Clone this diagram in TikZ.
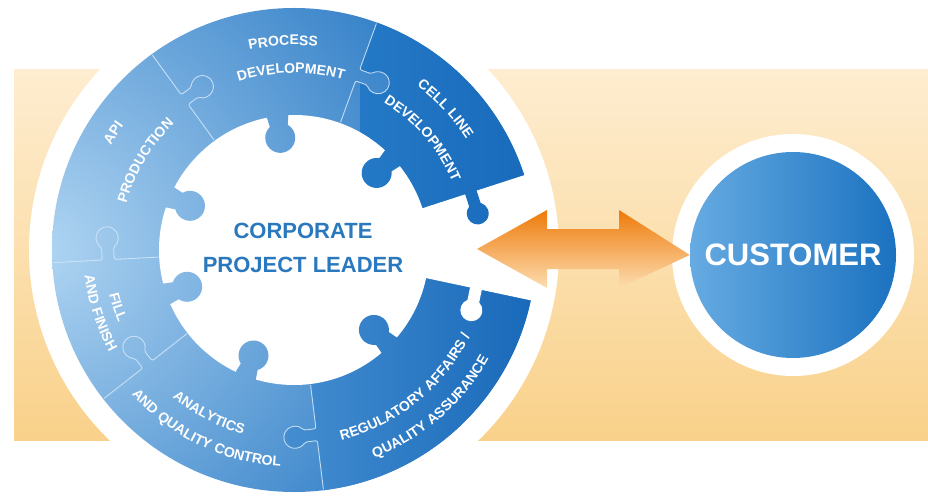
\documentclass[tikz,border=0pt]{standalone}
\usepackage{fontspec}
\setmainfont{Liberation Sans}
\usetikzlibrary{decorations.text,calc}
\definecolor{ringL}{HTML}{B0D5F2}
\definecolor{ringR}{HTML}{1C70C0}
\definecolor{cellL}{HTML}{2479C6}
\definecolor{cellR}{HTML}{1869BA}
\definecolor{regL}{HTML}{4A92D3}
\definecolor{regR}{HTML}{1869BA}
\definecolor{bgTop}{HTML}{FEEDD0}
\definecolor{bgBot}{HTML}{F9D18A}
\definecolor{arrTop}{HTML}{EE7A0A}
\definecolor{arrBot}{HTML}{FCDDB0}
\definecolor{custL}{HTML}{66ABE2}
\definecolor{custR}{HTML}{1B72C0}
\definecolor{leadBlue}{HTML}{2A78BD}
\definecolor{seam}{HTML}{CFE5F8}
\tikzset{
  seamline/.style={draw=seam, line width=0.9pt, rounded corners=2pt, opacity=0.9},
}
\newcommand\myRingFont{\bfseries\fontsize{14}{16}\selectfont\addfontfeature{LetterSpace=4}}
\newcommand\myShadeBase{\shade[inner color=ringL,outer color=ringR] (40,246) circle (500);}
\newcommand\myShadeCell{\shade[left color=cellL,right color=cellR] (360,4) rectangle (536,488);}
\newcommand\myShadeReg{\shade[left color=regL,right color=regR] (250,4) rectangle (536,488);}
% inner knob protruding into the hole
\newcommand\myKnobIn[2]{\begin{scope}\clip[shift={(C)},rotate=#1] (141,-12) -- (125,-9) arc[start angle=-36.87,end angle=-323.13,radius=15] -- (141,12) -- cycle; #2\end{scope}}
% knob on a seam, protruding clockwise
\newcommand\myKnobMid[2]{\begin{scope}\clip[shift={(C)},rotate=#1] (180,3) -- (180,-12.8) arc[start angle=123.1,end angle=416.9,radius=11] -- (192,3) -- cycle; #2\end{scope}}
\newcommand\mySeam[1]{\draw[seamline,shift={(C)},rotate=#1] (136,0) -- (180,0) -- (180,-12.8) arc[start angle=123.1,end angle=416.9,radius=11] -- (192,0) -- (241,0);}
\newcommand\myArcText[4]{\path[decorate,decoration={text along path,text align=center,text color=white,text={|\myRingFont|#4}}] ($(C)+(#1:#3)$) arc[start angle=#1,end angle=#2,radius=#3];}
\begin{document}
\begin{tikzpicture}[x=1pt,y=1pt]
\useasboundingbox (0,0) rectangle (928,496);
\fill[white] (0,0) rectangle (928,496);
\shade[top color=bgTop,bottom color=bgBot] (14,56) rectangle (928,426);
\coordinate (C) at (294,246);
\coordinate (K) at (793,241);
\fill[white] (C) circle (265);
\fill[white] (K) circle (121);
% ring base
\begin{scope}\clip (C) circle (242); \myShadeBase \end{scope}
% darker pieces
\begin{scope}\clip (C) -- ($(C)+(18:242)$) arc[start angle=18,end angle=70,radius=242] -- cycle; \myShadeCell \end{scope}
\begin{scope}\clip (C) -- ($(C)+(277:242)$) arc[start angle=277,end angle=348,radius=242] -- cycle; \myShadeReg \end{scope}
% hole and gap
\fill[white] (C) circle (135);
\fill[white] (C) -- ($(C)+(-12:250)$) arc[start angle=-12,end angle=18,radius=250] -- cycle;
% socket in regulatory piece
\fill[white,shift={(C)},rotate=-12] (180,3) -- (180,-12.8) arc[start angle=123.1,end angle=416.9,radius=11] -- (192,3) -- cycle;
% knobs
\myKnobMid{18}{\myShadeCell}
\myKnobMid{70}{\myShadeBase}
\myKnobMid{277}{\myShadeReg}
\myKnobIn{97}{\myShadeBase}
\myKnobIn{43}{\myShadeCell}
\myKnobIn{157}{\myShadeBase}
\myKnobIn{199}{\myShadeBase}
\myKnobIn{249}{\myShadeBase}
\myKnobIn{315}{\myShadeReg}
% seams
\mySeam{126}
\mySeam{70}
\mySeam{277}
\mySeam{218}
\mySeam{183}
% ring texts
\myArcText{133}{53}{205}{PROCESS}
\myArcText{131}{51}{177}{DEVELOPMENT}
\myArcText{83}{3}{205}{CELL LINE}
\myArcText{81}{1}{172.5}{DEVELOPMENT}
\myArcText{187}{107}{211}{API}
\myArcText{189}{109}{174}{PRODUCTION}
\myArcText{158}{238}{190}{FILL}
\myArcText{158}{238}{211}{AND FINISH}
\myArcText{202.5}{282.5}{191}{ANALYTICS}
\myArcText{204}{284}{217}{AND QUALITY CONTROL}
\myArcText{269}{349}{196}{REGULATORY AFFAIRS /}
\myArcText{271}{351}{223}{QUALITY ASSURANCE}
% centre text
\node[font=\bfseries\fontsize{22}{34}\selectfont, text=leadBlue, align=center] (leader) at (303,248) {CORPORATE\\PROJECT LEADER};
% customer
\node[circle, minimum size=206pt, inner sep=0pt, shade, left color=custL, right color=custR, text=white, font=\bfseries\fontsize{31}{31}\selectfont] (customer) at (K) {CUSTOMER};
% double arrow
\coordinate (gapTip) at (477,247);
\shade[top color=arrTop,bottom color=arrBot] (gapTip) -- (547,286) -- (547,267) -- (619,267) -- (619,286) -- (customer.west) -- (619,208) -- (619,227) -- (547,227) -- (547,208) -- cycle;
\end{tikzpicture}
\end{document}
